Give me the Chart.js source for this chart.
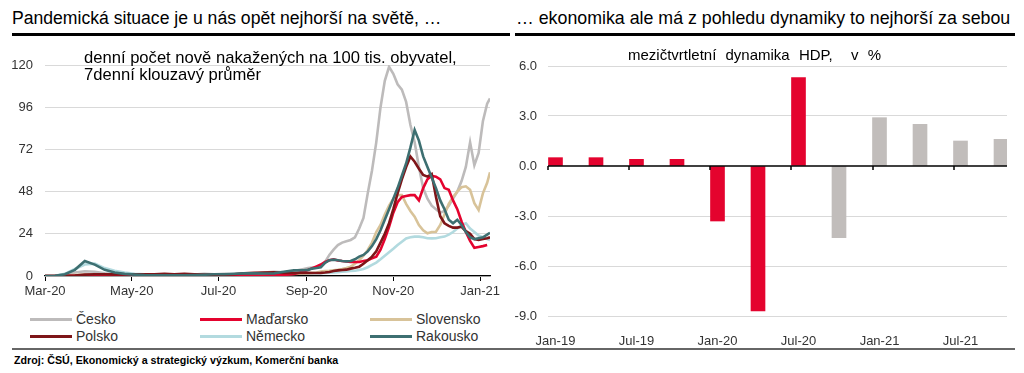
<!DOCTYPE html>
<html><head><meta charset="utf-8">
<script src="https://cdn.jsdelivr.net/npm/chart.js@4.4.1/dist/chart.umd.min.js"></script>
<style>
html,body{margin:0;padding:0;background:#fff;}
body{width:1024px;height:373px;position:relative;overflow:hidden;font-family:"Liberation Sans",Arial,sans-serif;}
.abs{position:absolute;white-space:nowrap;}
.title{font-size:17.6px;color:#000;top:8px;}
.rule{position:absolute;height:2.5px;background:#000;top:33px;}
.leg{position:absolute;font-size:14px;color:#333;}
.leg i{position:absolute;left:0;top:7px;width:42px;height:3px;}
.leg span{position:absolute;left:46px;top:0;}
</style></head><body>
<div class="abs title" style="left:12px;">Pandemická situace je u nás opět nejhorší na světě, …</div>
<div class="abs title" style="left:516px;font-size:17.8px;">… ekonomika ale má z pohledu dynamiky to nejhorší za sebou</div>
<div class="rule" style="left:12px;width:498px;"></div>
<div class="rule" style="left:515px;width:500px;"></div>
<canvas id="c1" style="position:absolute;left:0;top:40px;"></canvas>
<canvas id="c2" style="position:absolute;left:512px;top:40px;"></canvas>
<div class="abs" style="left:84px;top:49px;font-size:16.6px;line-height:17px;color:#000;">denní počet nově nakažených na 100 tis. obyvatel,<br>7denní klouzavý průměr</div>
<div class="abs" style="left:628px;top:46px;font-size:15px;color:#000;word-spacing:5px;">mezičtvrtletní dynamika HDP,&nbsp; v %</div>
<div id="legend"></div>
<div style="position:absolute;left:12px;top:348px;width:1003px;height:2px;background:#666;"></div>
<div class="abs" style="left:14px;top:354px;font-size:10.7px;font-weight:bold;color:#000;">Zdroj: ČSÚ, Ekonomický a strategický výzkum, Komerční banka</div>
<script>
// ---------- Left chart data: days since 1 Mar 2020 ----------
const days = [0,7,14,21,28,35,42,49,56,63,70,77,84,91,98,105,112,119,126,133,140,147,154,161,168,175,182,
185,188,191,194,197,200,203,206,209,212,215,218,221,224,227,230,233,236,239,242,245,248,251,254,257,260,263,266,269,272,275,278,281,284,287,290,293,296,299,302,305,308,311,313];
const cesko = [0,0.1,0.8,2,2.7,2.4,1.5,0.9,0.6,0.5,0.5,0.6,0.5,0.4,0.6,0.8,1.2,1.0,1.3,1.0,1.1,1.3,1.9,2.4,2.1,2.8,4.0,
4.5,4.8,5,5.3,8,12,15,17.6,19,19.8,20.5,22,27,33,47,60,76,96,111,119,115,109,106,99,86,76,62,50,44,40,38,36,37,40,44,48,54,62,76,63,70,88,98,101];
const madarsko = [0,0,0.05,0.1,0.2,0.3,0.3,0.3,0.2,0.2,0.1,0.1,0.1,0.1,0.1,0.1,0.1,0.2,0.1,0.2,0.2,0.2,0.3,0.5,0.6,1.2,2.5,
3.5,4.5,5.5,6.5,8,9,9.5,8.8,8.5,8.3,8,8,8,8.5,9,10,11,15,21,28,36,42,45,45.5,46,46,43,50,55,57,56.5,55,50,49,43,38,31,25,20,16,16.5,17,17.6];
const slovensko = [0,0,0.2,0.6,0.8,0.5,0.3,0.1,0.1,0.1,0.1,0.1,0.1,0.2,0.2,0.2,0.3,0.2,0.4,0.4,0.5,0.6,0.8,0.8,1,1.2,1.5,
1.6,1.8,2,2.5,2.8,3,3.3,3.5,4,4.6,5.3,7,9,11.5,14.8,19,25,29,35,40,44,46,46,41,37,33.7,29,26,24.3,25,25.2,29,35,41,45,48,50.5,51,49,41.4,37.5,47,53,59];
const polsko = [0,0,0.1,0.3,0.8,1,1,0.9,0.9,1,1,0.9,1.2,1.0,1.3,1.0,0.8,0.8,0.8,1.0,1.6,1.8,2.0,2.1,1.8,1.7,1.7,
1.8,1.7,1.7,1.8,2,2.3,2.8,3.2,3.4,3.6,4.2,4.7,5.3,7,9,11,14,19,24,30,38,47,55,62,68,65,61,57.5,56.5,58,45,34,30,28.5,27.5,27.5,28,25.5,24,21,20.5,21,21.5,22];
const nemecko = [0,0.1,1.2,4,6.5,7,4.5,3,2,1.3,0.9,0.6,0.5,0.4,0.4,0.5,0.6,0.5,0.5,0.6,0.9,1,1.3,1.5,1.7,1.5,1.5,
1.5,1.6,1.6,1.6,1.8,1.9,2,2.2,2.4,2.6,2.8,3,3.4,4,5,6.3,7.6,9.5,11.5,13.5,15.5,17.6,19.5,21.4,22,22.4,22.4,22,21.5,21.4,21.5,22,22.4,23.5,25,27,29,30,27,25,23,22,21,20.5];
const rakousko = [0,0.1,1,3.5,8.5,6.5,3.5,2,1.2,0.8,0.5,0.4,0.4,0.4,0.4,0.5,0.7,1,1,1.3,1.5,1.5,1.4,1.5,2.4,3.2,3.3,
3.5,4.2,4.5,5,7.5,9,9.3,9,8.5,8.3,8.5,9.5,11,12,14,17,21,26,32,38,44,50,57,64,73,83,77,68,62,56,50,43,38,32,30,32,29,25,22,21,21.5,22,23.5,24.6];
const leftTickDays = [0,61,122,184,245,306];
const leftTickLabels = ["Mar-20","May-20","Jul-20","Sep-20","Nov-20","Jan-21"];

// ---------- Right chart data: quarterly GDP q/q, % ----------
const quarters = ["Q1-19","Q2-19","Q3-19","Q4-19","Q1-20","Q2-20","Q3-20","Q4-20","Q1-21","Q2-21","Q3-21","Q4-21"];
const gdpQoQ = [0.5,0.5,0.4,0.4,-3.3,-8.7,5.3,-4.3,2.9,2.5,1.5,1.6];
const isForecast = [false,false,false,false,false,false,false,true,true,true,true,true];
const rightTickIdx = [0,2,4,6,8,10];
const rightTickLabels = ["Jan-19","Jul-19","Jan-20","Jul-20","Jan-21","Jul-21"];

const FONT = "'Liberation Sans', Arial, sans-serif";
Chart.defaults.font.family = FONT;
Chart.defaults.animation = false;

const series = [
  {label:"Česko", data:cesko, color:"#BDBBBB", order:5},
  {label:"Maďarsko", data:madarsko, color:"#E4032E", order:2},
  {label:"Slovensko", data:slovensko, color:"#D8C399", order:3},
  {label:"Polsko", data:polsko, color:"#7E1518", order:1},
  {label:"Německo", data:nemecko, color:"#B2DADF", order:4},
  {label:"Rakousko", data:rakousko, color:"#3D6F71", order:0}
];

// HTML legend (3 columns x 2 rows)
const legPos = [[30,311],[200,311],[370,311],[30,328],[200,328],[370,328]];
const legEl = document.getElementById('legend');
series.forEach((s,i)=>{
  const d = document.createElement('div');
  d.className='leg';
  d.style.left = legPos[i][0]+'px'; d.style.top = legPos[i][1]+'px';
  d.innerHTML = '<i style="background:'+s.color+'"></i><span>'+s.label+'</span>';
  legEl.appendChild(d);
});

const c1 = document.getElementById('c1');
c1.width = 512; c1.height = 270;
new Chart(c1, {
  type:'line',
  data:{ datasets: series.map(s=>({
    label:s.label,
    data: days.map((d,i)=>({x:d, y:s.data[i]})),
    borderColor:s.color, backgroundColor:s.color,
    borderWidth:2.6, pointRadius:0, tension:0, order:s.order
  }))},
  options:{
    responsive:false, maintainAspectRatio:false,
    layout:{padding:{left:0,right:22,top:25,bottom:0}},
    plugins:{legend:{display:false}, tooltip:{enabled:false}},
    scales:{
      x:{type:'linear', min:0, max:313,
        afterBuildTicks:(s)=>{ s.ticks = leftTickDays.map(v=>({value:v})); },
        afterFit:(s)=>{ s.height = 34; },
        ticks:{callback:(v)=>{const k=leftTickDays.indexOf(v); return k>=0?leftTickLabels[k]:'';}, color:'#333', font:{size:13}, padding:3, maxRotation:0, autoSkip:false},
        grid:{drawOnChartArea:false, drawTicks:true, tickLength:5, tickColor:'#000', tickWidth:1},
        border:{display:true, color:'#000', width:1.2}
      },
      y:{min:0, max:120,
        afterFit:(s)=>{ s.width = 45; },
        ticks:{stepSize:24, color:'#333', font:{size:13}, padding:12},
        grid:{color:'#D9D9D9', lineWidth:1, drawTicks:false},
        border:{display:false}
      }
    }
  }
});

// Right chart
const zeroTicks = {
  id:'zeroTicks',
  afterDatasetsDraw(chart){
    const {ctx, scales:{x,y}} = chart;
    const y0 = y.getPixelForValue(0);
    ctx.save();
    ctx.strokeStyle='#000'; ctx.lineWidth=1.6;
    ctx.beginPath(); ctx.moveTo(chart.chartArea.left, y0); ctx.lineTo(chart.chartArea.right, y0); ctx.stroke();
    ctx.lineWidth=1.5;
    rightTickIdx.forEach(i=>{
      const px = Math.round(x.getPixelForValue(i) - 7);
      ctx.beginPath(); ctx.moveTo(px, y0); ctx.lineTo(px, y0+4); ctx.stroke();
    });
    ctx.restore();
  }
};
const c2 = document.getElementById('c2');
c2.width = 512; c2.height = 310;
new Chart(c2, {
  type:'bar',
  data:{ datasets:[{
    label:'HDP', data: gdpQoQ.map((v,i)=>({x:i, y:v})),
    backgroundColor: isForecast.map(f=> f ? '#C1BDBB' : '#E4032E'),
    barThickness:14, borderWidth:0
  }]},
  options:{
    responsive:false, maintainAspectRatio:false,
    layout:{padding:{left:0,right:17,top:26,bottom:0}},
    plugins:{legend:{display:false}, tooltip:{enabled:false}},
    scales:{
      x:{type:'linear', min:-0.185, max:11.148, offset:false,
        afterBuildTicks:(s)=>{ s.ticks = rightTickIdx.map(v=>({value:v})); },
        afterFit:(s)=>{ s.height = 34; },
        ticks:{callback:(v)=>{const k=rightTickIdx.indexOf(v); return k>=0?rightTickLabels[k]:'';}, color:'#333', font:{size:13}, padding:10, maxRotation:0, autoSkip:false},
        grid:{display:false, offset:false},
        border:{display:false}
      },
      y:{min:-9, max:6,
        afterFit:(s)=>{ s.width = 36; },
        afterBuildTicks:(s)=>{ s.ticks = [-9,-6,-3,0,3,6].map(v=>({value:v})); },
        ticks:{callback:(v)=>v.toFixed(1), color:'#333', font:{size:13}, padding:11},
        grid:{color:(c)=> c.tick && c.tick.value===0 ? 'rgba(0,0,0,0)' : '#D9D9D9', lineWidth:1, drawTicks:false},
        border:{display:false}
      }
    }
  },
  plugins:[zeroTicks]
});
</script>
</body></html>
